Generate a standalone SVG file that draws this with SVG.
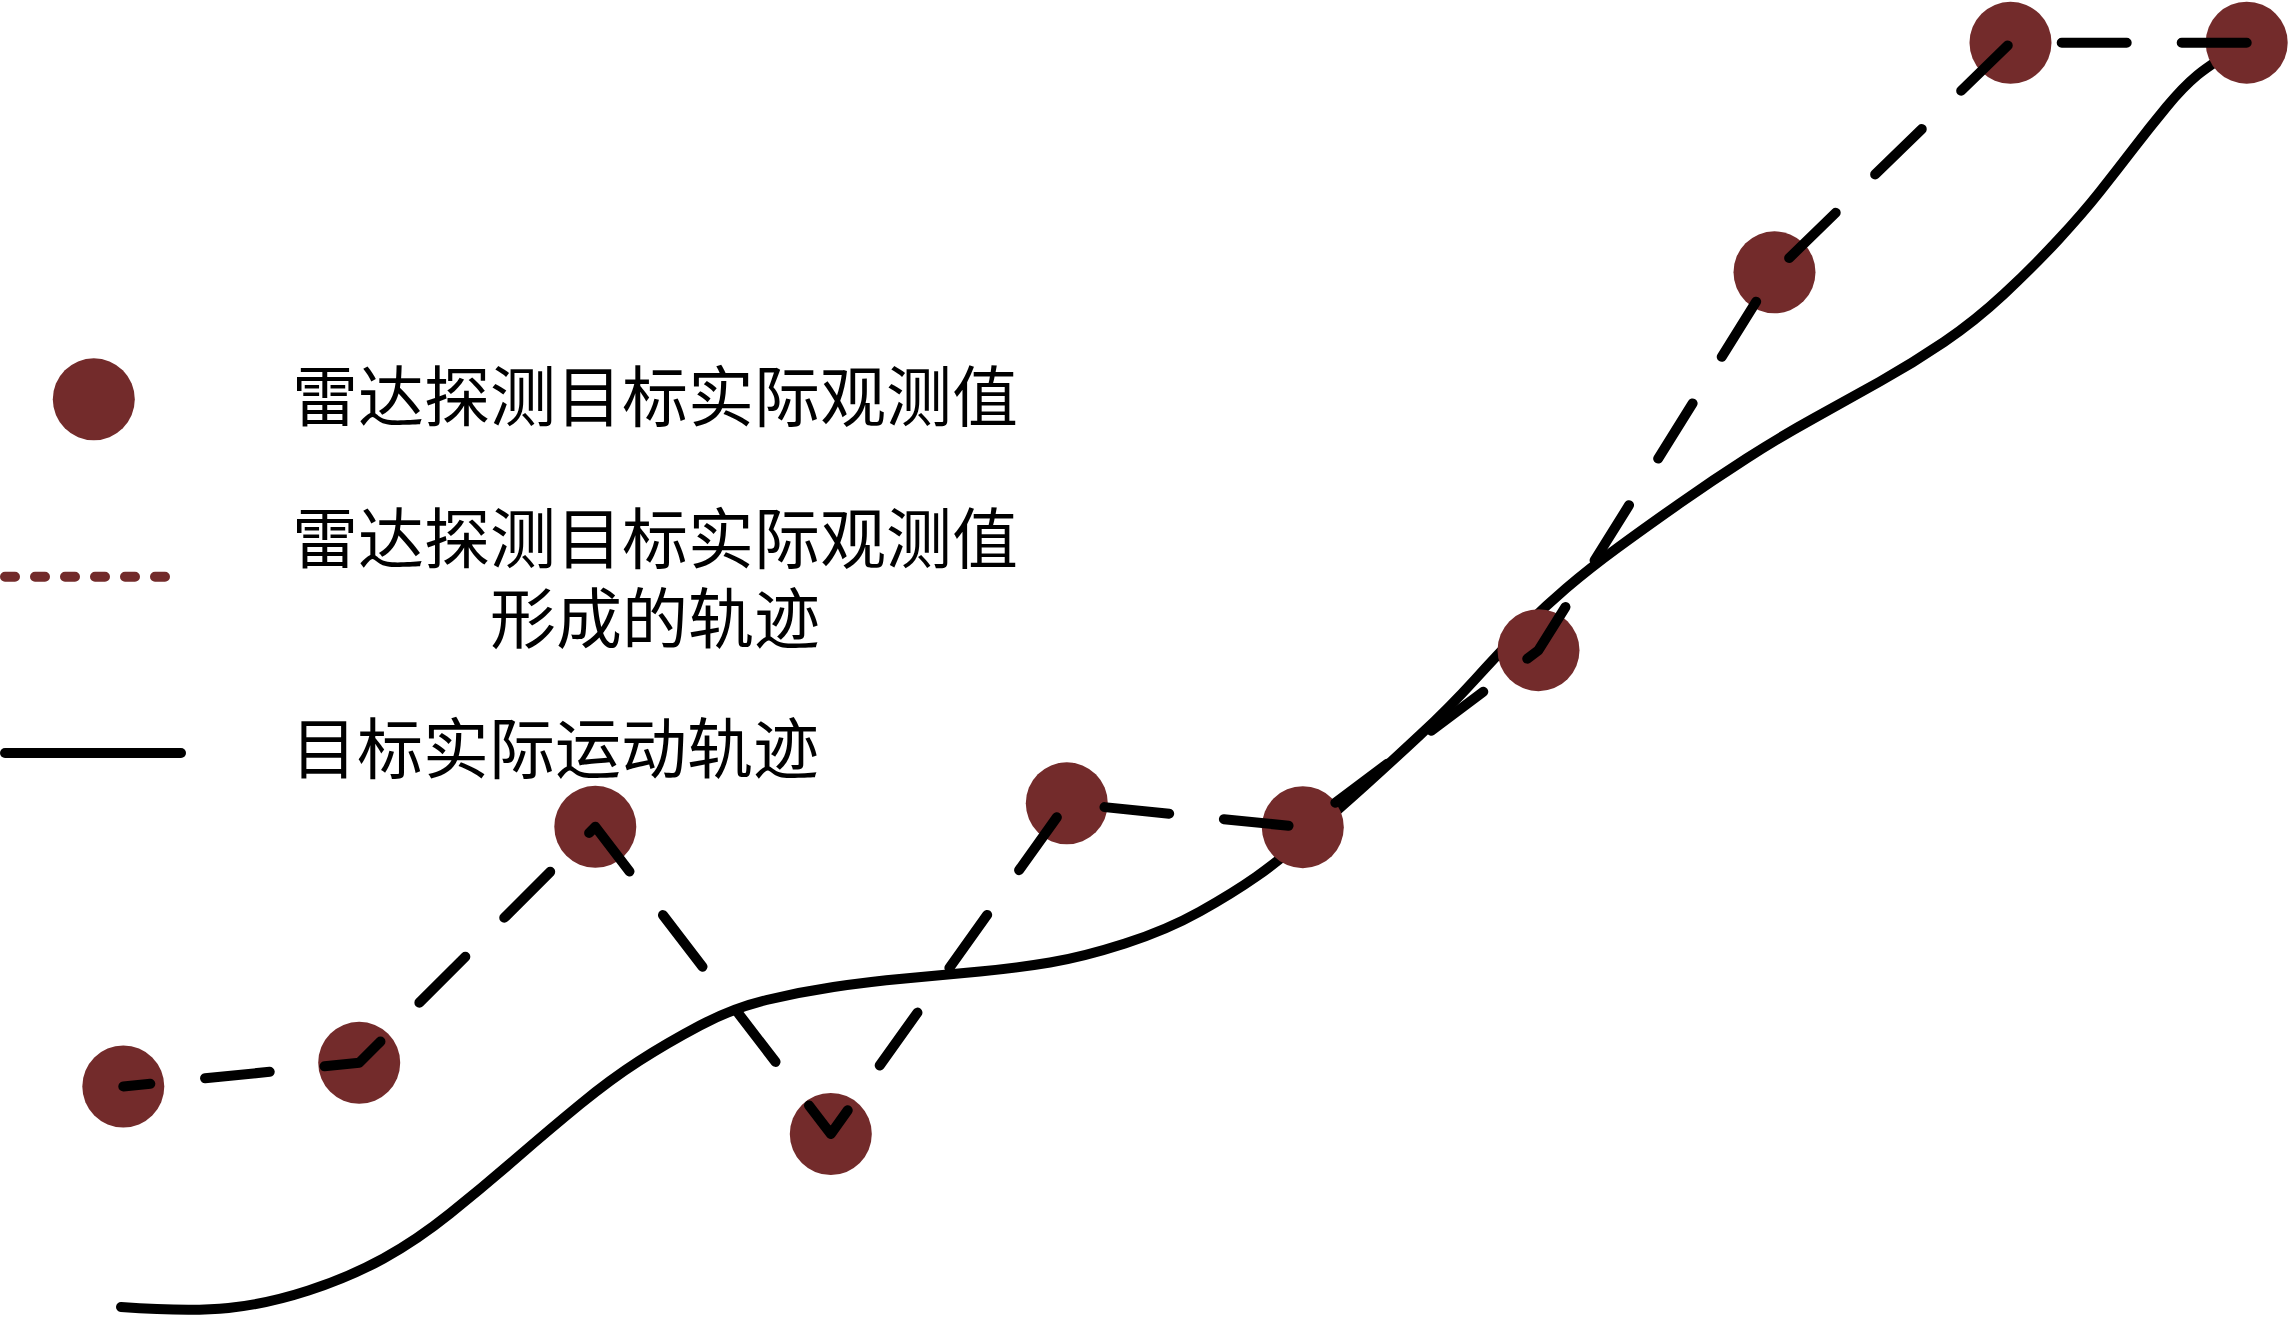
<svg xmlns="http://www.w3.org/2000/svg" width="2288" height="1319" viewBox="0 0 2288 1319">
<style>
.pt{fill:#732b2b}
.lbl{font-family:"Noto Sans CJK SC","Noto Sans",sans-serif;font-size:66px;fill:#000}
.curve{fill:none;stroke:#000;stroke-width:10;stroke-linecap:round;stroke-linejoin:round}
.dash{fill:none;stroke:#000;stroke-width:10;stroke-linecap:round;stroke-linejoin:round;stroke-dasharray:65 55}
</style>
<rect width="2288" height="1319" fill="#fff"/>
<g id="true-track">
<path class="curve" d="M121,1307 Q190,1312 228.5,1308 Q267,1304 308.5,1290.5 Q350,1277 383.5,1258.5 Q417,1240 450,1213.5 Q483,1187 516.5,1158 Q550,1129 580.5,1104 Q611,1079 639,1061 Q667,1043 700,1025.5 Q733,1008 766.5,1000 Q800,992 833.5,987 Q867,982 905,978.5 Q943,975 980,971.5 Q1017,968 1050,962.5 Q1083,957 1125,943.5 Q1167,930 1200,911.5 Q1233,893 1256.5,876.5 Q1280,860 1310,834 Q1340,808 1365,785.5 Q1390,763 1420,735 Q1450,707 1475,679.5 Q1500,652 1521.5,630 Q1543,608 1566.5,588 Q1590,568 1618,547.5 Q1646,527 1679.5,503.5 Q1713,480 1746.5,458.5 Q1780,437 1813.5,418.5 Q1847,400 1880,381.5 Q1913,363 1944,342 Q1975,321 2004,294 Q2033,267 2058,240 Q2083,213 2100,191.5 Q2117,170 2133.5,148.5 Q2150,127 2166.5,107 Q2183,87 2197.5,75 Q2212,63 2246.7,42.7"/>
</g>
<g id="observations">
<circle id="p1" class="pt" cx="123.3" cy="1086.5" r="41"/>
<circle id="p2" class="pt" cx="359.2" cy="1062.8" r="41"/>
<circle id="p3" class="pt" cx="595.3" cy="826.8" r="41"/>
<circle id="p4" class="pt" cx="830.8" cy="1134" r="41"/>
<circle id="p5" class="pt" cx="1066.8" cy="803.3" r="41"/>
<circle id="p6" class="pt" cx="1302.8" cy="827.2" r="41"/>
<circle id="p7" class="pt" cx="1538.5" cy="650.2" r="41"/>
<circle id="p8" class="pt" cx="1774.5" cy="272.3" r="41"/>
<circle id="p9" class="pt" cx="2010.5" cy="42.8" r="41"/>
<circle id="p10" class="pt" cx="2246.7" cy="42.7" r="41"/>
</g>
<g id="connectors">
<path class="dash" d="M2246.7,42.7 L2010.5,42.8 L1774.5,272.3 L1538.5,650.2 L1302.8,827.2 L1066.8,803.3 L830.8,1134 L595.3,826.8 L359.2,1062.8 L123.3,1086.5"/>
</g>
<g id="legend">
<g id="legend-point">
<circle class="pt" cx="93.8" cy="399.3" r="41"/>
<text class="lbl" x="655" y="421" text-anchor="middle">雷达探测目标实际观测值</text>
</g>
<g id="legend-observed-track">
<line x1="5" y1="576.7" x2="168" y2="576.7" stroke="#732b2b" stroke-width="10" stroke-linecap="round" stroke-dasharray="10 20"/>
<text class="lbl" text-anchor="middle"><tspan x="655" y="563">雷达探测目标实际观测值</tspan><tspan x="655" y="643">形成的轨迹</tspan></text>
</g>
<g id="legend-true-track">
<line x1="5" y1="753" x2="181" y2="753" stroke="#000" stroke-width="10" stroke-linecap="round"/>
<text class="lbl" x="291" y="773">目标实际运动轨迹</text>
</g>
</g>
</svg>
